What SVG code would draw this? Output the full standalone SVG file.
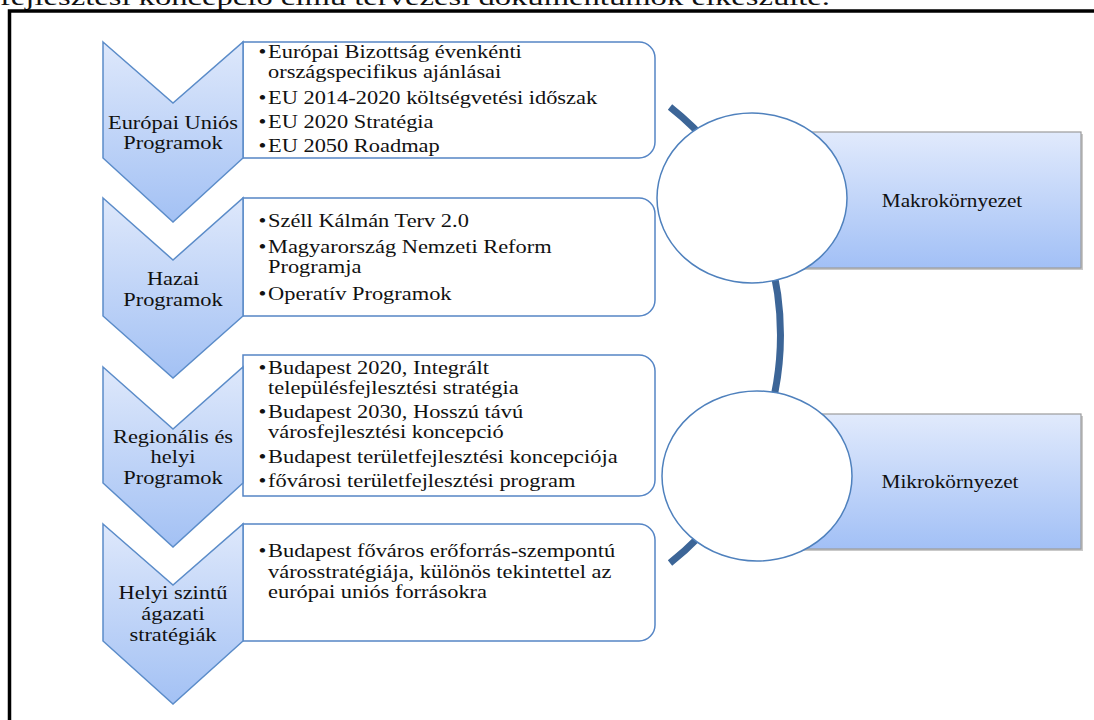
<svg xmlns="http://www.w3.org/2000/svg" width="1094" height="720" viewBox="0 0 1094 720">
<defs>
<linearGradient id="gc" x1="0" y1="0" x2="0" y2="1">
<stop offset="0" stop-color="#dee8fb"/>
<stop offset="1" stop-color="#a3c1f4"/>
</linearGradient>
<linearGradient id="gr" x1="0" y1="0" x2="0" y2="1">
<stop offset="0" stop-color="#e1eafc"/>
<stop offset="1" stop-color="#a2c0f6"/>
</linearGradient>
<style>
text{font-family:"Liberation Serif","Times New Roman",serif;font-size:19px;fill:#111}
.chev{fill:url(#gc);stroke:#5b8cc9;stroke-width:1.5;stroke-linejoin:miter}
.box{fill:#fff;stroke:#5585c5;stroke-width:1.5}
.ell{fill:#fff;stroke:#4f81bd;stroke-width:1.5}
.rct{fill:url(#gr);stroke:#9c9c9c;stroke-width:1.2}
.shd{fill:#c9c9c9}
.mid{text-anchor:middle}
.arc{fill:none;stroke:#3c6597;stroke-width:7}
</style>
</defs>
<rect width="1094" height="720" fill="#fff"/>
<text transform="translate(0,5)" textLength="830" lengthAdjust="spacingAndGlyphs" style="font-size:24px">fejlesztési koncepció című tervezési dokumentumok elkészülte.</text>
<path d="M9.5 730 V11 H1100" fill="none" stroke="#000" stroke-width="3.5"/>

<g id="connectors">
<path class="arc" d="M670 107 A290.5 290.5 0 0 1 670 563"/>
</g>

<g id="box1">
<path class="box" d="M243 42 H639 A16 16 0 0 1 655 58 V142 A16 16 0 0 1 639 158 H243 Z"/>
<g transform="translate(268,0) scale(1.18,1)">
<text x="-8" y="58">•</text><text x="0" y="58">Európai Bizottság évenkénti</text>
<text x="0" y="78">országspecifikus ajánlásai</text>
<text x="-8" y="104">•</text><text x="0" y="104">EU 2014-2020 költségvetési időszak</text>
<text x="-8" y="128">•</text><text x="0" y="128">EU 2020 Stratégia</text>
<text x="-8" y="152">•</text><text x="0" y="152">EU 2050 Roadmap</text>
</g>
</g>

<g id="box2">
<path class="box" d="M243 198 H639 A16 16 0 0 1 655 214 V300 A16 16 0 0 1 639 316 H243 Z"/>
<g transform="translate(268,0) scale(1.18,1)">
<text x="-8" y="227">•</text><text x="0" y="227">Széll Kálmán Terv 2.0</text>
<text x="-8" y="253">•</text><text x="0" y="253">Magyarország Nemzeti Reform</text>
<text x="0" y="273">Programja</text>
<text x="-8" y="300">•</text><text x="0" y="300">Operatív Programok</text>
</g>
</g>

<g id="box3">
<path class="box" d="M243 355 H639 A16 16 0 0 1 655 371 V480 A16 16 0 0 1 639 496 H243 Z"/>
<g transform="translate(268,0) scale(1.18,1)">
<text x="-8" y="374">•</text><text x="0" y="374">Budapest 2020, Integrált</text>
<text x="0" y="394">településfejlesztési stratégia</text>
<text x="-8" y="418">•</text><text x="0" y="418">Budapest 2030, Hosszú távú</text>
<text x="0" y="438">városfejlesztési koncepció</text>
<text x="-8" y="463">•</text><text x="0" y="463">Budapest területfejlesztési koncepciója</text>
<text x="-8" y="487">•</text><text x="0" y="487">fővárosi területfejlesztési program</text>
</g>
</g>

<g id="box4">
<path class="box" d="M243 524 H639 A16 16 0 0 1 655 540 V625 A16 16 0 0 1 639 641 H243 Z"/>
<g transform="translate(268,0) scale(1.18,1)">
<text x="-8" y="557">•</text><text x="0" y="557">Budapest főváros erőforrás-szempontú</text>
<text x="0" y="578">városstratégiája, különös tekintettel az</text>
<text x="0" y="598">európai uniós forrásokra</text>
</g>
</g>

<g id="chevron1">
<polygon class="chev" points="103,42 173,103 243,42 243,158 173,222 103,158"/>
<g transform="translate(173,0) scale(1.18,1)"><text class="mid" x="0" y="129">Európai Uniós</text><text class="mid" x="0" y="149">Programok</text></g>
</g>
<g id="chevron2">
<polygon class="chev" points="103,198 173,260 243,198 243,316 173,378 103,316"/>
<g transform="translate(173,0) scale(1.18,1)"><text class="mid" x="0" y="285">Hazai</text><text class="mid" x="0" y="306">Programok</text></g>
</g>
<g id="chevron3">
<polygon class="chev" points="103,367 173,429 243,367 243,483 173,547 103,483"/>
<g transform="translate(173,0) scale(1.18,1)"><text class="mid" x="0" y="443">Regionális és</text><text class="mid" x="0" y="463">helyi</text><text class="mid" x="0" y="484">Programok</text></g>
</g>
<g id="chevron4">
<polygon class="chev" points="103,524 173,585 243,524 243,641 173,704 103,641"/>
<g transform="translate(173,0) scale(1.18,1)"><text class="mid" x="0" y="599">Helyi szintű</text><text class="mid" x="0" y="620">ágazati</text><text class="mid" x="0" y="641">stratégiák</text></g>
</g>

<g id="makro">
<rect class="shd" x="792" y="134" width="291" height="136"/>
<rect class="rct" x="790" y="132" width="291" height="136"/>
<ellipse class="ell" cx="752" cy="198" rx="95" ry="85"/>
<g transform="translate(952,0) scale(1.12,1)"><text class="mid" x="0" y="207">Makrokörnyezet</text></g>
</g>

<g id="mikro">
<rect class="shd" x="797" y="416" width="286" height="135"/>
<rect class="rct" x="795" y="414" width="286" height="135"/>
<ellipse class="ell" cx="757" cy="476" rx="95" ry="85"/>
<g transform="translate(950,0) scale(1.12,1)"><text class="mid" x="0" y="488">Mikrokörnyezet</text></g>
</g>
</svg>
